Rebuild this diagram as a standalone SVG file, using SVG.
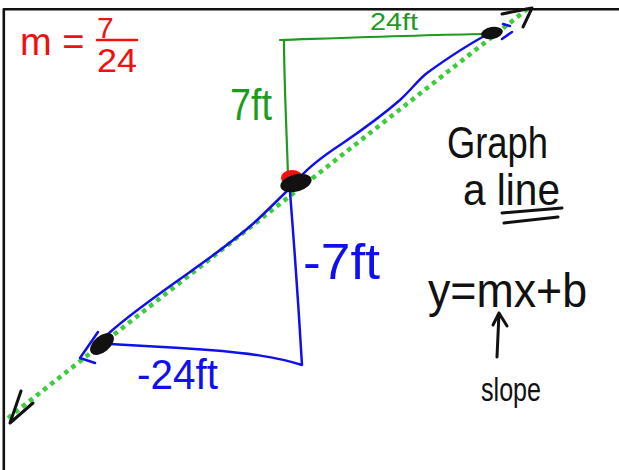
<svg xmlns="http://www.w3.org/2000/svg" width="619" height="470" viewBox="0 0 619 470">
<style>
.ink{fill:none;stroke-linecap:round;stroke-linejoin:round}
.blk{stroke:#111;stroke-width:3}
.blu{stroke:#1010ee;stroke-width:2.5}
.grn{stroke:#1e9a1e;stroke-width:2.2}
.dot{fill:none;stroke:#3ccc3c;stroke-width:4.5;stroke-dasharray:4.5 4.5}
.t{font-family:"Liberation Sans","DejaVu Sans",sans-serif}
.red{fill:#f01010}
.tg{fill:#1e9a1e}
.tb{fill:#1010ee}
.tk{fill:#111}
</style>
<rect width="619" height="470" fill="#fff"/>
<g id="frame">
<path class="ink" d="M3.8,470 L3.8,9.3 L619,9.3" stroke="#111" stroke-width="2.6"/>
</g>
<g id="connectors">
<path class="dot" d="M8,418 L530,7"/>
<path class="ink blk" d="M502,14 L532,8 L523,27"/>
<path class="ink blk" d="M21,391 L10,423 L33,403"/>
<path class="ink blu" d="M108,334 C130,314 160,293 190,272 C215,254 235,240 255,222 C270,208 285,193 296,182 C305,170 320,158 343,143 C365,128 385,113 400,100 C412,89 418,80 427,73 C445,60 465,46 490,33"/>
<path class="ink blu" d="M98,332 L80,358 L95,363"/>
<path class="ink blu" d="M503,24 L510,26 M512,32 L502,39"/>
<path class="ink blu" d="M290,192 Q297,280 302,365 C280,358 250,352 180,348 L110,344"/>
<path class="ink grn" d="M288,176 C287,140 284,80 284,40 M280,40 C340,38 420,35 486,34"/>
</g>
<g id="point-low">
<ellipse cx="102" cy="344" rx="14" ry="8" transform="rotate(-40 102 344)" fill="#111"/>
</g>
<g id="point-mid">
<ellipse cx="292" cy="178" rx="11" ry="8" fill="#f01010"/>
<ellipse cx="296" cy="183" rx="16" ry="8.5" transform="rotate(-15 296 183)" fill="#111"/>
</g>
<g id="point-high">
<ellipse cx="492" cy="33" rx="11" ry="6" transform="rotate(-10 492 33)" fill="#111"/>
</g>
<g id="slope-formula">
<text class="t red" x="20" y="55" font-size="38">m =</text>
<text class="t red" x="97" y="38" font-size="30">7</text>
<path class="ink" d="M97,40 L137,40" stroke="#f01010" stroke-width="2.5"/>
<text class="t red" x="97" y="72" font-size="33" textLength="40" lengthAdjust="spacingAndGlyphs">24</text>
</g>
<g id="labels">
<text class="t tg" x="230" y="120" font-size="44" textLength="42" lengthAdjust="spacingAndGlyphs">7ft</text>
<text class="t tg" x="370" y="30" font-size="24" textLength="48" lengthAdjust="spacingAndGlyphs">24ft</text>
<text class="t tb" x="303" y="279" font-size="50" textLength="77" lengthAdjust="spacingAndGlyphs">-7ft</text>
<text class="t tb" x="137" y="389" font-size="42" textLength="81" lengthAdjust="spacingAndGlyphs">-24ft</text>
</g>
<g id="title">
<text class="t tk" x="447" y="158" font-size="44" textLength="101" lengthAdjust="spacingAndGlyphs">Graph</text>
<text class="t tk" x="463" y="205" font-size="44" textLength="97" lengthAdjust="spacingAndGlyphs">a line</text>
<path class="ink blk" d="M502,213 L562,208 M504,223 L558,217" stroke-width="2.2"/>
</g>
<g id="equation">
<text class="t tk" x="428" y="307" font-size="48" textLength="159" lengthAdjust="spacingAndGlyphs">y=mx+b</text>
<path class="ink blk" d="M497,357 L499,313 M493,325 L499,313 L507,326" stroke-width="2.4"/>
<text class="t tk" x="481" y="401" font-size="33" textLength="60" lengthAdjust="spacingAndGlyphs">slope</text>
</g>
</svg>
